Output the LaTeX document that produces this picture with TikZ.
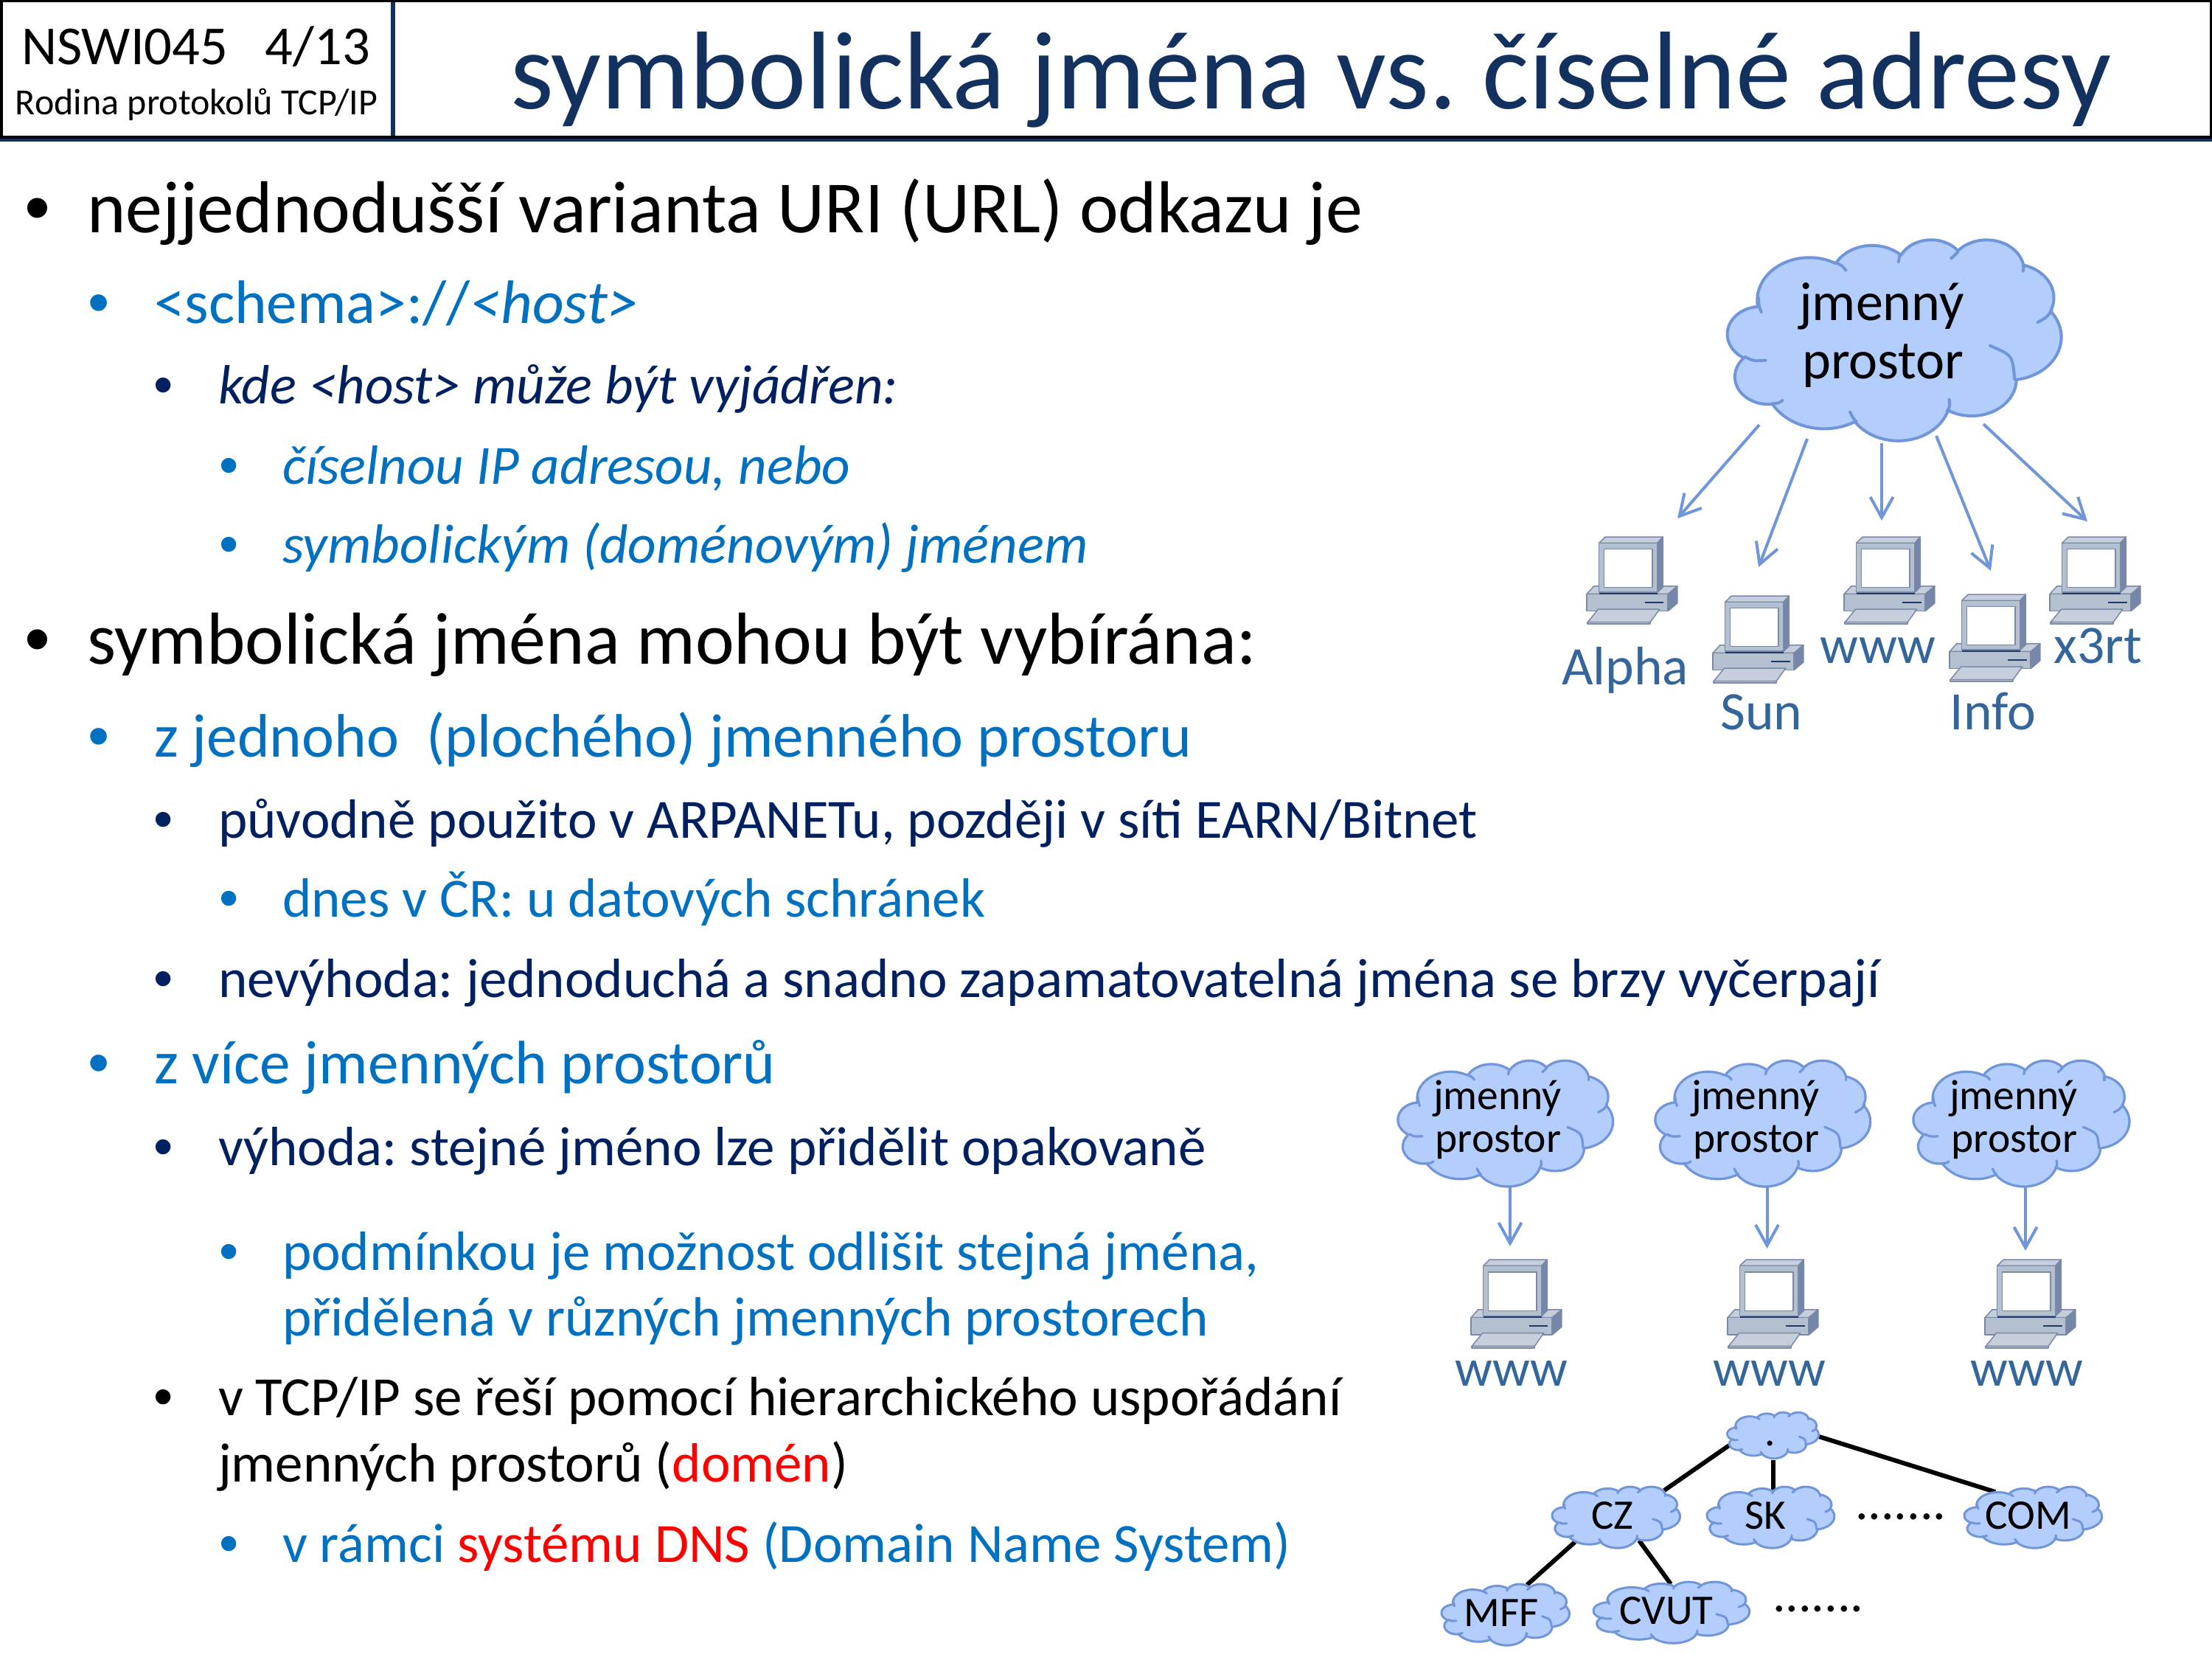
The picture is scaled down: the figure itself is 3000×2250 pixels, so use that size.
\documentclass[tikz,border=0pt]{standalone}
\usepackage{fontspec}
\setmainfont{Carlito}
\newfontfamily\arialf{Liberation Sans}
\usetikzlibrary{arrows.meta}
\AtBeginDocument{\frenchspacing}
\definecolor{cloudfill}{HTML}{B3CDFD}
\definecolor{cloudline}{HTML}{7195D9}
\definecolor{navy}{HTML}{002060}
\definecolor{titlenavy}{HTML}{12315E}
\definecolor{hdrnavy}{HTML}{12315E}
\definecolor{ablue}{HTML}{0070C0}
\definecolor{lblue}{HTML}{34659B}
\definecolor{pcfront}{HTML}{B4BFD0}
\definecolor{pctop}{HTML}{C6CEDB}
\definecolor{pcside}{HTML}{7586A8}
\definecolor{pcedge}{HTML}{7A89A6}
\definecolor{pcdark}{HTML}{1F3864}
\newcommand\pxf[1]{\fontsize{\the\dimexpr#1\dimexpr0.28453pt\relax}{\the\dimexpr#1\dimexpr0.34pt\relax}\selectfont}
\tikzset{
 txt/.style={anchor=base west,inner sep=0pt,outer sep=0pt},
 ctxt/.style={anchor=base,inner sep=0pt,outer sep=0pt},
 arrowline/.style={draw=cloudline,line width=0.4mm,-{Straight Barb[length=2.8mm,width=3.1mm,line width=0.4mm]}},
 treeline/.style={draw=black,line width=0.6mm},
 lab/.style={ctxt,text=lblue},
}
\def\CA#1#2#3#4{arc[x radius=#1,y radius=#2,start angle={atan2(#1*sin(#3),#2*cos(#3))},delta angle={mod(atan2(#1*sin(#3+#4),#2*cos(#3+#4))-atan2(#1*sin(#3),#2*cos(#3))+720,360)}]}
% \cloudat{x0}{y0}{x1}{y1}{line width}
\newcommand\cloudat[5]{%
 \pgfmathsetmacro\cxu{(#3-#1)/432*0.01}\pgfmathsetmacro\cyu{(#4-#2)/431*0.01}%
 \begin{scope}[shift={(#1,#2)},x=\cxu cm,y=-\cyu cm,shift={(0,-1)},line width=#5mm,draw=cloudline,line join=round]
 \filldraw[fill=cloudfill] (39,143.7) \CA{67.53}{91.90}{-190.4875}{123.7805} \CA{53.33}{72.67}{-144.1024}{89.9452} \CA{43.65}{59.45}{-145.8079}{99.7230} \CA{48.57}{65.95}{-130.9861}{117.2417} \CA{53.33}{72.73}{-78.7089}{109.0269} \CA{67.75}{92.20}{-46.2673}{130.2690} \CA{57.85}{78.67}{0.6250}{114.0333} \CA{67.52}{92.15}{22.4516}{115.1726} \CA{77.20}{105.43}{66.2426}{75.7110} \CA{43.60}{59.18}{-274.9421}{146.7356} \CA{43.45}{59.45}{-246.8285}{152.5189} -- cycle;
 \end{scope}
 \pgfmathsetmacro\cxu{(#3-#1)/400*0.01}\pgfmathsetmacro\cyu{(#4-#2)/414*0.01}%
 \begin{scope}[shift={(#1,#2)},x=\cxu cm,y=-\cyu cm,shift={(-17,-10)},line width=#5mm,draw=cloudline,line cap=round]
 \draw (38.25,252.19) .. controls (47.36,260.61) .. (62.54,259.21);
 \draw (70.13,348.36) .. controls (78,348) .. (82.78,342.05);
 \draw (163.74,365.91) .. controls (167.79,380) .. (171.33,385.57);
 \draw (282.65,339.94) .. controls (283.66,354) .. (280.12,364.51);
 \draw (331.73,229.02) .. controls (358.55,248.68) .. (361.08,297.82);
 \draw (388.91,180.59) .. controls (400.55,169.35) .. (405.61,155.31);
 \draw (371.20,62.65) .. controls (372.21,69.67) .. (371.20,74.58);
 \draw (285.18,48.61) .. controls (288.22,41.59) .. (292.77,35.97);
 \draw (221.93,55.63) .. controls (222.94,48.61) .. (223.45,41.59);
 \draw (148.56,59.14) .. controls (154.63,64.05) .. (158.68,73.18);
 \draw (53.94,129.34) .. controls (54.44,146.89) .. (57.48,159.53);
 \end{scope}}
% \computer{name}{x}{y}{xscale}{yscale}
\newcommand\computer[5]{%
 \coordinate (#1) at (#2,#3);
 \begin{scope}[shift={(#2,#3)},x=#4*0.01cm,y=-#5*0.01cm,line width=0.15mm,draw=pcedge,line join=round]
 \filldraw[fill=pctop] (0,168)--(17,145)--(214,145)--(192,168)--cycle;
 \filldraw[fill=pcfront] (0,168) rectangle (192,218);
 \filldraw[fill=pcside] (192,168)--(214,145)--(214,195)--(192,218)--cycle;
 \filldraw[fill=pctop] (2,251)--(27,213)--(172,213)--(150,251)--cycle;
 \filldraw[fill=pcfront] (2,251) rectangle (150,256);
 \draw[pcdark,line width=0.2mm] (137,192)--(182,192);
 \draw[pcdark,line width=0.3mm] (29,165)--(167,165);
 \filldraw[fill=pctop] (29,18)--(44,0)--(180,0)--(167,18)--cycle;
 \filldraw[fill=pcside] (167,18)--(180,0)--(180,148)--(167,163)--cycle;
 \filldraw[fill=pcfront] (29,18) rectangle (167,163);
 \filldraw[fill=white] (41,36) rectangle (155,148);
 \end{scope}}
\newcommand\bul[5]{\node[txt,text=#4] (#1) at (#2,#3) {\arialf\pxf{#5}•};}
\begin{document}
\begin{tikzpicture}[x=0.01cm,y=-0.01cm]
\useasboundingbox (0,0) rectangle (3000,2250);
\fill[white] (0,0) rectangle (3000,2250);
% header
\fill[hdrnavy] (0,187) rectangle (3000,192);
\fill[hdrnavy] (530,3) rectangle (536,184);
\fill[black] (0,0) rectangle (3000,3);
\fill[black] (0,184) rectangle (3000,188);
\fill[black] (0,0) rectangle (3.5,188);
\fill[black] (2996.5,0) rectangle (3000,188);
\node[txt] (hcode) at (29,87) {\pxf{74.5}NSWI045\ \ \ 4/13};
\node[txt] (hsub) at (21,155) {\pxf{50}Rodina protokolů TCP/IP};
\node[txt,text=titlenavy] (title) at (692,147) {\pxf{150}symbolická jména vs. číselné adresy};
% body
\bul{b1}{33}{315}{black}{99.8}
\node[txt] (t1) at (118,315) {\pxf{99.8}nejjednodušší varianta URI (URL) odkazu je};
\bul{b2}{120}{438}{ablue}{83.2}
\node[txt,text=ablue] (t2) at (209,438) {\pxf{83.2}<schema>://\textit{<host>}};
\bul{b3}{208}{547}{navy}{75}
\node[txt,text=navy] (t3) at (296,547) {\pxf{75}\itshape kde <host> může být vyjádřen:};
\bul{b4}{297}{656}{ablue}{75}
\node[txt,text=ablue] (t4) at (383,656) {\pxf{75}\itshape číselnou IP adresou, nebo};
\bul{b5}{297}{763}{ablue}{75}
\node[txt,text=ablue] (t5) at (383,763) {\pxf{75}\itshape symbolickým (doménovým) jménem};
\bul{b6}{33}{900}{black}{99.8}
\node[txt] (t6) at (118,900) {\pxf{99.8}symbolická jména mohou být vybírána:};
\bul{b7}{120}{1026}{ablue}{83.2}
\node[txt,text=ablue] (t7) at (209,1026) {\pxf{83.2}z jednoho\ \ (plochého) jmenného prostoru};
\bul{b8}{208}{1136}{navy}{75}
\node[txt,text=navy] (t8) at (296,1136) {\pxf{75}původně použito v ARPANETu, později v síti EARN/Bitnet};
\bul{b9}{297}{1243}{ablue}{75}
\node[txt,text=ablue] (t9) at (383,1243) {\pxf{75}dnes v ČR: u datových schránek};
\bul{b10}{208}{1352}{navy}{75}
\node[txt,text=navy] (t10) at (296,1352) {\pxf{75}nevýhoda: jednoduchá a snadno zapamatovatelná jména se brzy vyčerpají};
\bul{b11}{120}{1469}{ablue}{83.2}
\node[txt,text=ablue] (t11) at (209,1469) {\pxf{83.2}z více jmenných prostorů};
\bul{b12}{208}{1580}{navy}{75}
\node[txt,text=navy] (t12) at (296,1580) {\pxf{75}výhoda: stejné jméno lze přidělit opakovaně};
\bul{b13}{297}{1722}{ablue}{75}
\node[txt,text=ablue] (t13) at (383,1722) {\pxf{75}podmínkou je možnost odlišit stejná jména,};
\node[txt,text=ablue] (t14) at (383,1811) {\pxf{75}přidělená v různých jmenných prostorech};
\bul{b15}{208}{1919}{black}{75}
\node[txt] (t15) at (296,1919) {\pxf{75}v TCP/IP se řeší pomocí hierarchického uspořádání};
\node[txt] (t16) at (296,2009) {\pxf{75}jmenných prostorů (\textcolor{red}{domén})};
\bul{b17}{297}{2118}{ablue}{75}
\node[txt,text=ablue] (t17) at (383,2118) {\pxf{75}v rámci \textcolor{red}{systému DNS} (Domain Name System)};
% big cloud
\cloudat{2343}{325}{2796}{597}{0.4}
\node[ctxt] (bc1) at (2552,434) {\pxf{74}jmenný};
\node[ctxt] (bc2) at (2554,513) {\pxf{74}prostor};
\computer{pcA}{2152}{728}{0.574}{0.461}
\computer{pcB}{2323}{808}{0.574}{0.461}
\computer{pcC}{2501}{728}{0.574}{0.461}
\computer{pcD}{2644}{806}{0.574}{0.461}
\computer{pcE}{2780}{728}{0.574}{0.461}
\node[lab] (lA) at (2204,928) {\pxf{73.5}Alpha};
\node[lab] (lB) at (2389,989) {\pxf{73.5}Sun};
\node[lab] (lC) at (2547,899) {\pxf{72.5}www};
\node[lab] (lD) at (2703,989) {\pxf{73.5}Info};
\node[lab] (lE) at (2845,899) {\pxf{73.5}x3rt};
\coordinate (s1) at (2386,576); \coordinate (e1) at (2275,703);
\coordinate (s2) at (2451,595); \coordinate (e2) at (2385,769);
\coordinate (s3) at (2552,601); \coordinate (e3) at (2552,706);
\coordinate (s4) at (2626,591); \coordinate (e4) at (2700,774);
\coordinate (s5) at (2690,575); \coordinate (e5) at (2831,707);
\foreach \i in {1,...,5} {\draw[arrowline] (s\i) -- (e\i);}
% three clouds
\cloudat{1896}{1438}{2188}{1609}{0.32}
\cloudat{2245}{1438}{2537}{1609}{0.32}
\cloudat{2595}{1438}{2888}{1609}{0.32}
\node[ctxt] (c1a) at (2031,1504) {\pxf{57.5}jmenný};
\node[ctxt] (c1b) at (2032,1562) {\pxf{57.5}prostor};
\node[ctxt] (c2a) at (2381,1504) {\pxf{57.5}jmenný};
\node[ctxt] (c2b) at (2382,1562) {\pxf{57.5}prostor};
\node[ctxt] (c3a) at (2731,1504) {\pxf{57.5}jmenný};
\node[ctxt] (c3b) at (2732,1562) {\pxf{57.5}prostor};
\computer{pcF}{1995}{1708}{0.574}{0.468}
\computer{pcG}{2343}{1708}{0.574}{0.468}
\computer{pcH}{2692}{1708}{0.574}{0.468}
\node[lab] (lF) at (2050,1879) {\pxf{71}www};
\node[lab] (lG) at (2400,1879) {\pxf{71}www};
\node[lab] (lH) at (2749,1879) {\pxf{71}www};
\coordinate (s6) at (2048,1609); \coordinate (e6) at (2048,1690);
\coordinate (s7) at (2396.5,1609); \coordinate (e7) at (2396.5,1693);
\coordinate (s8) at (2747,1609); \coordinate (e8) at (2747,1696);
\foreach \i in {6,7,8} {\draw[arrowline] (s\i) -- (e\i);}
% tree
\coordinate (r1) at (2345,1960); \coordinate (cz1) at (2257,2021);
\coordinate (r2) at (2405,1980); \coordinate (sk1) at (2405,2020);
\coordinate (r3) at (2467,1948); \coordinate (com1) at (2706,2023);
\coordinate (cz2) at (2136,2091); \coordinate (mff1) at (2071,2149);
\coordinate (cz3) at (2223,2089); \coordinate (cv1) at (2266,2148);
\draw[treeline] (r1) -- (cz1);
\draw[treeline] (r2) -- (sk1);
\draw[treeline] (r3) -- (com1);
\draw[treeline] (cz2) -- (mff1);
\draw[treeline] (cz3) -- (cv1);
\cloudat{2342.5}{1915}{2467}{1978}{0.28}
\cloudat{2105}{2016}{2279}{2099}{0.3}
\cloudat{2315}{2016}{2488}{2099}{0.3}
\cloudat{2664}{2016}{2851}{2099}{0.3}
\cloudat{1955}{2148}{2129}{2231}{0.3}
\cloudat{2161}{2145}{2373}{2228}{0.3}
\node[ctxt] (nroot) at (2401,1960) {\pxf{57}.};
\node[ctxt] (ncz) at (2187,2073) {\pxf{57}CZ};
\node[ctxt] (nsk) at (2394,2073) {\pxf{57}SK};
\node[ctxt] (ncom) at (2751,2073) {\pxf{57}COM};
\node[ctxt] (nmff) at (2036,2205) {\pxf{57}MFF};
\node[ctxt] (ncvut) at (2260,2202) {\pxf{57}CVUT};
\node[txt] (d1) at (2516,2060) {\pxf{70}.......};
\node[txt] (d2) at (2404,2185) {\pxf{70}.......};
\end{tikzpicture}
\end{document}
